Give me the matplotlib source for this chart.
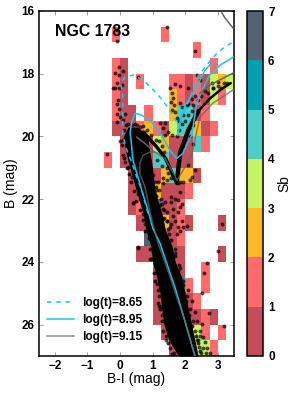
import matplotlib
matplotlib.use("Agg")
import matplotlib.pyplot as plt
import numpy as np
from matplotlib.colors import BoundaryNorm, ListedColormap

plt.rcParams['font.family'] = ['Liberation Sans', 'DejaVu Sans']

# Hess diagram bins, one string per 0.5 mag row, '.' is an empty cell
x_edges = np.arange(-2.5, 3.51, 0.25)
y_edges = np.arange(16, 27.01, 0.5)
sb_rows = [
    "........................",
    ".........1.....1........",
    "...................1....",
    ".........10..........1..",
    ".........10.1...11010323",
    ".........10.....2101031.",
    ".........100.1..24401...",
    ".........0001210344201..",
    "..........00003200041...",
    "........1.000044000.....",
    "...........000024220....",
    "...........00020001.....",
    "...........0106001......",
    "............0002010...0.",
    ".............60001......",
    "............000000....0.",
    "..............0000..1...",
    "..............00051.1...",
    "..............000001....",
    "..............00000010..",
    "...............000031.1.",
    "................000331..",
]
sb_colors = ["#C44D58", "#FF6B6B", "#FDB827", "#C7F464", "#4ECDC4", "#00A0B0", "#556270"]
sb_levels = [0, 1, 2, 3, 4, 5, 6, 7]

# black main sequence band
band_y = [19.7, 20.0, 20.5, 21.0, 21.5, 22.0, 22.5, 23.0, 23.5, 24.0, 24.5, 25.0, 25.5, 26.0, 26.5, 27.0]
band_left = [0.25, 0.10, 0.18, 0.30, 0.44, 0.58, 0.72, 0.80, 0.95, 1.00, 1.13, 1.23, 1.28, 1.35, 1.50, 1.80]
band_right = [0.55, 0.85, 0.92, 1.00, 1.05, 1.15, 1.30, 1.40, 1.60, 1.70, 1.90, 2.00, 2.10, 2.20, 2.30, 2.40]

# dense parts of the two arms
sgb_x = [0.75, 1.10, 1.40, 1.65, 1.75]
sgb_y = [19.9, 20.3, 20.7, 21.3, 21.5]
rgb_x = [1.75, 1.85, 2.10, 2.40]
rgb_y = [21.4, 20.5, 19.8, 19.2]
rgb2_x = [2.40, 2.75, 3.10, 3.40]
rgb2_y = [19.2, 18.8, 18.5, 18.3]

star_x = [-0.10, -0.10, 1.43, 2.29, 0.56, -0.03, -0.15, 0.10, -0.02, -0.10, -0.20, 0.05, -0.02, -0.15, -0.05,
          -0.10, -0.02, -0.08, 0.00, 0.10, 0.15, 0.26, -0.10, 0.36, 1.69, 1.53, 1.84, 2.36, 2.45, 2.09,
          2.82, 2.85, 3.00, 1.60, 1.63, 1.56, 1.66, 1.60, 1.69, 1.84, 1.90, 1.23, 1.38, 0.71, 0.67, 0.83,
          0.52, 1.32, 1.47, 1.60, 1.38, 1.02, 1.07, 1.18, 1.33, 1.48, 1.43, 1.58, 1.12, 1.07, 1.28, 1.38,
          1.58, 1.33, 1.43, 1.64, 1.79, 1.84, 1.79, 1.89, 1.69, 1.58, 1.84, 1.94, 2.15, 2.30, 2.10, 2.20,
          1.84, 1.33, 1.79, 1.69, 1.89, 2.05, 1.53, 1.79, 1.58, 1.43, 1.33, 1.94, 1.62, -0.39, 0.41, 3.14,
          2.25, 0.56, 3.01, 0.92, 1.69, 2.66, 2.58, 2.51, 1.23, 1.84, 1.75, 1.84, 1.20, 1.47, 1.84, 2.51,
          2.73, 3.19, 2.45, 2.55, 2.67, 2.76, 2.55, 2.45, 2.36, 0.05, 0.08, 0.15, 0.26, 0.36, 0.51, 0.56,
          0.41, 0.72, 0.77, 0.56, 1.00, 1.10, 1.15, 1.20, 1.30, 1.32, 1.42, 1.55, 1.65, 0.95, 0.82, 0.70,
          0.62, 1.50, 1.45, 1.35, 1.25, 1.20, 1.70, 1.80, 1.95, 2.05, 2.15, 2.25, 2.30, 2.40, 2.50, 1.92,
          2.10, 2.20, 2.30, 2.35, 2.42, 2.60, 2.65, 0.10, 0.00, 0.12, 0.30, 0.20, 0.45, 0.60, 0.75, 0.95,
          1.10, 1.20, 1.30, 1.35, 1.15, 1.30, 1.45, 1.75, 1.80, 1.90, 2.00, 2.10, 2.20, 2.25, 2.40, 2.50,
          2.60, 2.70, 2.85, 3.00, 3.10, 3.20, 3.30, 1.95, 2.00, 2.15, 2.25, 1.75, 1.80, 1.95, 2.05, 2.20,
          2.30, 2.10]
star_y = [16.60, 16.97, 16.50, 17.28, 18.10, 17.78, 17.99, 17.91, 18.04, 18.31, 18.44, 18.36, 18.47, 18.44, 18.84,
          18.95, 19.11, 19.27, 19.38, 19.48, 19.27, 19.59, 19.54, 19.64, 18.33, 18.47, 18.40, 18.04, 18.20, 18.46,
          18.30, 18.46, 18.27, 18.62, 18.78, 18.91, 19.00, 19.16, 19.22, 18.94, 19.07, 19.58, 19.58, 19.67, 19.86, 19.80,
          19.64, 19.74, 19.87, 19.96, 19.96, 21.24, 21.45, 21.45, 21.34, 21.18, 21.40, 21.34, 21.72, 21.88, 22.14, 22.09,
          22.09, 22.30, 22.41, 22.30, 22.04, 22.25, 22.41, 22.14, 21.98, 21.93, 21.77, 21.45, 21.40, 21.06, 20.92, 21.29,
          21.45, 21.50, 21.50, 22.68, 22.68, 22.84, 22.89, 22.89, 22.78, 22.68, 22.62, 22.89, 22.55, 20.57, 22.12, 22.78,
          20.23, 23.55, 23.64, 23.90, 23.73, 24.05, 24.34, 25.00, 25.39, 23.00, 23.10, 24.18, 25.39, 26.03, 26.90, 25.97,
          25.62, 26.03, 26.35, 26.40, 26.73, 26.90, 26.76, 26.20, 26.50, 20.28, 20.60, 20.81, 20.97, 21.29, 21.50, 21.82,
          22.11, 22.46, 22.78, 23.53, 23.70, 24.20, 24.70, 25.10, 25.70, 26.20, 26.50, 26.75, 26.90, 23.30, 22.80, 22.30,
          22.00, 23.10, 22.70, 22.35, 22.00, 21.70, 23.60, 24.10, 24.60, 25.10, 25.50, 25.90, 26.20, 26.50, 26.90, 24.95,
          24.90, 25.25, 25.60, 25.90, 26.70, 26.55, 26.90, 20.10, 20.15, 19.80, 19.75, 19.65, 19.60, 19.70, 19.85, 19.95,
          20.10, 20.15, 20.30, 20.50, 20.75, 20.95, 21.00, 20.00, 19.80, 19.60, 19.50, 19.30, 19.20, 19.00, 18.85, 18.70,
          18.55, 18.60, 18.45, 18.40, 18.45, 18.30, 18.30, 20.30, 20.10, 20.00, 19.65, 19.40, 19.50, 19.30, 19.00, 18.80,
          18.70, 18.95]
# stars hugging the band edges
fuzz_x = [0.12, 0.22, 0.27, 0.35, 0.44, 0.50, 0.62, 0.72, 0.76, 0.88, 0.92, 0.95, 1.05, 1.07, 1.18, 1.18, 1.23, 1.28, 1.40, 1.47, 1.60,
          1.10, 1.12, 1.22, 1.36, 1.48, 1.58, 1.68, 1.78, 1.92, 2.02, 2.12, 2.22, 2.32, 2.38, 2.46]
fuzz_y = [20.70, 21.00, 21.20, 21.45, 21.75, 22.05, 22.35, 22.65, 23.00, 23.25, 23.60, 23.90, 24.35, 24.60, 24.90, 25.30, 25.50, 25.90, 26.35, 26.60, 26.95,
          21.60, 21.90, 22.20, 22.60, 22.95, 23.30, 23.80, 24.30, 24.75, 25.25, 25.70, 26.05, 26.35, 26.60, 26.85]

# isochrones
iso865_x = [0.86, 0.67, 0.52, 0.37, 0.18, 0.09, 0.08, 0.02, 0.15, 0.40, 0.71, 1.13, 1.53, 1.75, 1.84, 2.00, 2.42, 2.76, 2.98, 3.22, 3.47]
iso865_y = [22.45, 21.72, 21.30, 20.86, 20.35, 19.96, 18.62, 18.30, 18.11, 18.04, 18.20, 18.62, 19.16, 19.55, 19.55, 19.16, 18.04, 17.60, 17.34, 17.15, 16.99]
iso895_x = [2.30, 1.99, 1.69, 1.23, 1.01, 0.86, 0.67, 0.52, 0.40, 0.34, 0.31, 0.36, 0.46, 0.67, 0.97, 1.28, 1.53, 1.74, 1.93, 2.20, 2.36, 2.55, 2.76, 3.07, 3.47]
iso895_y = [27.0, 25.87, 24.82, 23.41, 22.93, 22.36, 21.72, 21.18, 20.76, 20.12, 19.90, 19.55, 19.26, 19.32, 19.55, 19.96, 20.44, 20.70, 20.54, 19.96, 18.94, 18.46, 18.04, 17.73, 17.47]
agb895_x = [1.78, 1.84, 2.00, 2.30, 2.60, 2.82]
agb895_y = [19.96, 19.55, 19.00, 18.53, 17.90, 17.65]
iso915_x = [2.30, 1.99, 1.75, 1.44, 1.17, 0.98, 0.77, 0.61, 0.61, 0.71, 0.92, 1.07, 1.38, 1.63, 1.75, 2.06, 2.21, 2.45, 2.85, 3.47]
iso915_y = [27.0, 25.87, 25.14, 24.18, 23.41, 22.68, 21.62, 21.18, 20.86, 20.60, 20.50, 20.50, 20.70, 21.15, 21.40, 20.86, 20.54, 19.39, 18.94, 18.52]
hook915_x = [0.52, 0.83, 1.07]
hook915_y = [20.02, 20.28, 20.50]
agb915_x = [2.45, 2.76, 3.47]
agb915_y = [18.62, 18.36, 17.98]
top915_x = [3.13, 3.22, 3.47]
top915_y = [16.06, 16.22, 16.54]

x_ticks = [-2, -1, 0, 1, 2, 3]
y_ticks = [16, 18, 20, 22, 24, 26]

sb = np.full((len(sb_rows), len(x_edges) - 1), np.nan)
for r, row in enumerate(sb_rows):
    for c, ch in enumerate(row):
        if ch != '.':
            sb[r, c] = int(ch)

fig = plt.figure(figsize=(2.94, 3.93), dpi=100)
ax = fig.add_axes([38.5 / 294, 37 / 393, 195.5 / 294, 345 / 393])
cax = fig.add_axes([246.5 / 294, 37 / 393, 16 / 294, 345 / 393])

cmap = ListedColormap(sb_colors)
norm = BoundaryNorm(sb_levels, cmap.N)
mesh = ax.pcolormesh(x_edges, y_edges, np.ma.masked_invalid(sb), cmap=cmap, norm=norm, zorder=1)

ax.fill_betweenx(band_y, band_left, band_right, color='black', lw=0, zorder=2)
ax.plot(sgb_x, sgb_y, color='black', lw=2.5, solid_capstyle='round', zorder=2)
ax.plot(rgb_x, rgb_y, color='black', lw=3.2, solid_capstyle='round', zorder=2)
ax.plot(rgb2_x, rgb2_y, color='black', lw=1.8, solid_capstyle='round', zorder=2)
ax.scatter(star_x, star_y, s=8, color='black', alpha=0.7, lw=0, zorder=3)
ax.scatter(fuzz_x, fuzz_y, s=8, color='black', alpha=0.8, lw=0, zorder=3)

cyan = '#1CC4F0'
grey = '#666666'
ax.plot(iso865_x, iso865_y, color=cyan, lw=1.1, ls='--', dashes=(3, 3), zorder=4, label='log(t)=8.65')
ax.plot(iso895_x, iso895_y, color=cyan, lw=1.1, zorder=4, label='log(t)=8.95')
ax.plot(agb895_x, agb895_y, color=cyan, lw=1.1, zorder=4)
ax.plot(iso915_x, iso915_y, color=grey, lw=1.1, alpha=0.75, zorder=5, label='log(t)=9.15')
ax.plot(hook915_x, hook915_y, color=grey, lw=1.1, zorder=5)
ax.plot(agb915_x, agb915_y, color=grey, lw=1.1, zorder=5)
ax.plot(top915_x, top915_y, color=grey, lw=1.1, zorder=5)

ax.set_xlim(-2.5, 3.5)
ax.set_ylim(27, 16)
ax.set_xticks(x_ticks)
ax.set_yticks(y_ticks)
ax.tick_params(direction='in', length=3, width=0.5, color='#777777', top=True, right=True, pad=3)
for lab in ax.get_xticklabels() + ax.get_yticklabels():
    lab.set_fontsize(8.5)
    lab.set_fontweight('bold')
for s in ax.spines.values():
    s.set_linewidth(1.1)
ax.set_xlabel('B-I (mag)', fontsize=10, labelpad=0)
ax.set_ylabel('B (mag)', fontsize=10, labelpad=2)
ax.text(-2.0, 16.65, 'NGC 1783', fontsize=11.4, fontweight='bold', va='center', zorder=6)

ax.legend(loc='lower left', bbox_to_anchor=(0.03, 0.03), frameon=False,
          prop={'weight': 'bold', 'size': 8.6}, handlelength=2.3, labelspacing=0.42, handletextpad=0.7,
          borderpad=0.2, borderaxespad=0)

cb = fig.colorbar(mesh, cax=cax, ticks=sb_levels)
cb.outline.set_linewidth(1.1)
cb.ax.tick_params(length=0, pad=4)
for lab in cb.ax.get_yticklabels():
    lab.set_fontsize(8.5)
    lab.set_fontweight('bold')
cb.set_label('Sb', fontsize=10, labelpad=2)

fig.savefig('out.png', dpi=100)
